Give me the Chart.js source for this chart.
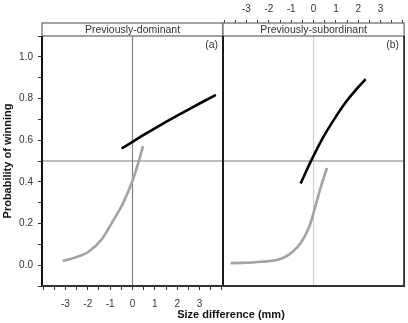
<!DOCTYPE html>
<html>
<head>
<meta charset="utf-8">
<script src="https://cdn.jsdelivr.net/npm/chart.js@4/dist/chart.umd.min.js"></script>
<style>
  html, body { margin: 0; padding: 0; background: #fff; }
  #wrap { position: relative; width: 408px; height: 323px; overflow: hidden; }
  canvas { position: absolute; top: 0; }
  #ca { left: 0; }
  #cb { left: 213px; }
</style>
</head>
<body>
<div id="wrap">
  <canvas id="ca" width="408" height="323"></canvas>
  <canvas id="cb" width="195" height="323"></canvas>
</div>
<script>
// ---------- data ----------
const panelTitles = ['Previously-dominant', 'Previously-subordinant'];
const panelTags = ['(a)', '(b)'];
const xTickLabels = [-3, -2, -1, 0, 1, 2, 3];
const yTickLabels = [0.0, 0.2, 0.4, 0.6, 0.8, 1.0];
const yAxisTitle = 'Probability of winning';
const xAxisTitle = 'Size difference (mm)';

// Panel (a) previously-dominant
const domWinX  = [-0.49, 0.0, 0.5, 1.0, 1.5, 2.0, 2.5, 3.0, 3.5, 3.73];
const domWinY  = [0.560, 0.592, 0.625, 0.657, 0.688, 0.718, 0.747, 0.776, 0.804, 0.817];
const domLoseX = [-3.12, -2.6, -2.0, -1.38, -0.86, -0.42, 0.0, 0.25, 0.47];
const domLoseY = [0.020, 0.036, 0.062, 0.124, 0.215, 0.298, 0.405, 0.488, 0.571];

// Panel (b) previously-subordinant
const subWinX  = [-0.58, -0.1, 0.41, 0.92, 1.44, 1.9, 2.33];
const subWinY  = [0.392, 0.503, 0.610, 0.700, 0.782, 0.843, 0.893];
const subLoseX = [-3.71, -2.34, -1.31, -0.56, -0.18, 0.04, 0.33, 0.60];
const subLoseY = [0.010, 0.016, 0.037, 0.109, 0.188, 0.266, 0.377, 0.467];

const refX = 0;
const refY = 0.5;

// ---------- helpers ----------
const FONT = "'Liberation Sans', Arial, sans-serif";
const pts = (xs, ys) => xs.map((x, i) => ({ x: x, y: ys[i] }));
const isLabel = (v, list) => list.some(l => Math.abs(l - v) < 1e-6);

function lineDs(xs, ys, color) {
  return {
    data: pts(xs, ys),
    borderColor: color,
    borderWidth: 2.6,
    pointRadius: 0,
    fill: false,
    cubicInterpolationMode: 'monotone',
    borderCapStyle: 'butt'
  };
}

function panelPlugin(idx, vColor, extra) {
  return {
    id: 'panel' + idx,
    beforeDatasetsDraw(chart) {
      const { ctx, chartArea: a, scales } = chart;
      ctx.save();
      const px = scales.x.getPixelForValue(refX);
      const py = scales.y.getPixelForValue(refY);
      ctx.lineWidth = 1.2;
      ctx.strokeStyle = vColor;
      ctx.beginPath(); ctx.moveTo(px, a.top); ctx.lineTo(px, a.bottom); ctx.stroke();
      ctx.strokeStyle = '#7a7a7a';
      ctx.lineWidth = 1.2;
      ctx.beginPath(); ctx.moveTo(a.left, py); ctx.lineTo(a.right, py); ctx.stroke();
      ctx.restore();
    },
    afterDraw(chart) {
      const { ctx, chartArea: a } = chart;
      ctx.save();
      // strip
      const sh = 13;
      ctx.fillStyle = '#fff';
      ctx.fillRect(a.left, a.top - sh, a.right - a.left, sh);
      ctx.strokeStyle = '#666';
      ctx.lineWidth = 1.2;
      ctx.strokeRect(a.left, a.top - sh, a.right - a.left, sh);
      ctx.fillStyle = '#333';
      ctx.font = '10.5px ' + FONT;
      ctx.textAlign = 'center';
      ctx.textBaseline = 'middle';
      ctx.fillText(panelTitles[idx], (a.left + a.right) / 2, a.top - sh / 2 + 0.5);
      // frame
      ctx.strokeStyle = '#111';
      ctx.lineWidth = idx === 0 ? 2 : 1.6;
      ctx.beginPath();
      ctx.moveTo(a.left, a.top); ctx.lineTo(a.left, a.bottom);
      ctx.stroke();
      ctx.lineWidth = 1.6;
      ctx.beginPath();
      ctx.moveTo(a.right, a.top); ctx.lineTo(a.right, a.bottom);
      ctx.stroke();
      ctx.strokeStyle = '#333';
      ctx.lineWidth = 2;
      ctx.beginPath();
      ctx.moveTo(a.left - 1, a.bottom); ctx.lineTo(a.right + 1, a.bottom);
      ctx.stroke();
      // tag
      ctx.fillStyle = '#333';
      ctx.font = '10.5px ' + FONT;
      ctx.textAlign = 'right';
      ctx.fillText(panelTags[idx], a.right - 5, a.top + 9);
      if (extra) extra(chart, ctx);
      ctx.restore();
    }
  };
}

const xTicks = {
  stepSize: 0.5,
  includeBounds: false,
  autoSkip: false,
  maxRotation: 0,
  color: '#333',
  font: { size: 10, family: FONT },
  callback: v => isLabel(v, xTickLabels) ? String(Math.round(v)) : ''
};

// ---------- chart (a) ----------
new Chart(document.getElementById('ca'), {
  type: 'line',
  data: {
    datasets: [
      lineDs(domLoseX, domLoseY, '#a3a3a3'),
      lineDs(domWinX, domWinY, '#000')
    ]
  },
  options: {
    responsive: false,
    animation: false,
    events: [],
    layout: { padding: { left: 0, top: 36, right: 185, bottom: 0 } },
    plugins: { legend: { display: false }, tooltip: { enabled: false }, title: { display: false } },
    scales: {
      x: {
        type: 'linear', position: 'bottom', min: -4.05, max: 4.05,
        afterFit: s => { s.height = 37; },
        grid: { drawOnChartArea: false, tickLength: 4, tickColor: '#333', tickWidth: 1 },
        border: { display: false },
        ticks: Object.assign({ padding: 8 }, xTicks)
      },
      y: {
        type: 'linear', position: 'left', min: -0.1, max: 1.1,
        afterFit: s => { s.width = 42; },
        grid: { drawOnChartArea: false, tickLength: 4, tickColor: '#333', tickWidth: 1 },
        border: { display: false },
        title: { display: true, text: yAxisTitle, color: '#111', font: { size: 11, weight: 'bold', family: FONT }, padding: { top: 1, bottom: 0 } },
        ticks: {
          stepSize: 0.1, includeBounds: false, autoSkip: false, padding: 5,
          color: '#333', font: { size: 10, family: FONT },
          callback: v => isLabel(v, yTickLabels) ? v.toFixed(1) : ''
        }
      }
    }
  },
  plugins: [panelPlugin(0, '#808080', (chart, ctx) => {
    ctx.fillStyle = '#111';
    ctx.font = 'bold 11px ' + FONT;
    ctx.textAlign = 'center';
    ctx.textBaseline = 'middle';
    ctx.fillText(xAxisTitle, 231, 315);
  })]
});

// ---------- chart (b) ----------
new Chart(document.getElementById('cb'), {
  type: 'line',
  data: {
    datasets: [
      lineDs(subLoseX, subLoseY, '#a3a3a3'),
      lineDs(subWinX, subWinY, '#000')
    ]
  },
  options: {
    responsive: false,
    animation: false,
    events: [],
    layout: { padding: { left: 10, top: 0, right: 3, bottom: 37 } },
    plugins: { legend: { display: false }, tooltip: { enabled: false }, title: { display: false } },
    scales: {
      x: {
        type: 'linear', position: 'top', min: -4.05, max: 4.05,
        afterFit: s => { s.height = 36; },
        grid: { drawOnChartArea: false, tickLength: 16, tickColor: '#333', tickWidth: 1 },
        border: { display: false },
        ticks: Object.assign({ padding: 5 }, xTicks)
      },
      y: {
        type: 'linear', display: false, min: -0.1, max: 1.1
      }
    }
  },
  plugins: [panelPlugin(1, '#cfcfcf')]
});
</script>
</body>
</html>
